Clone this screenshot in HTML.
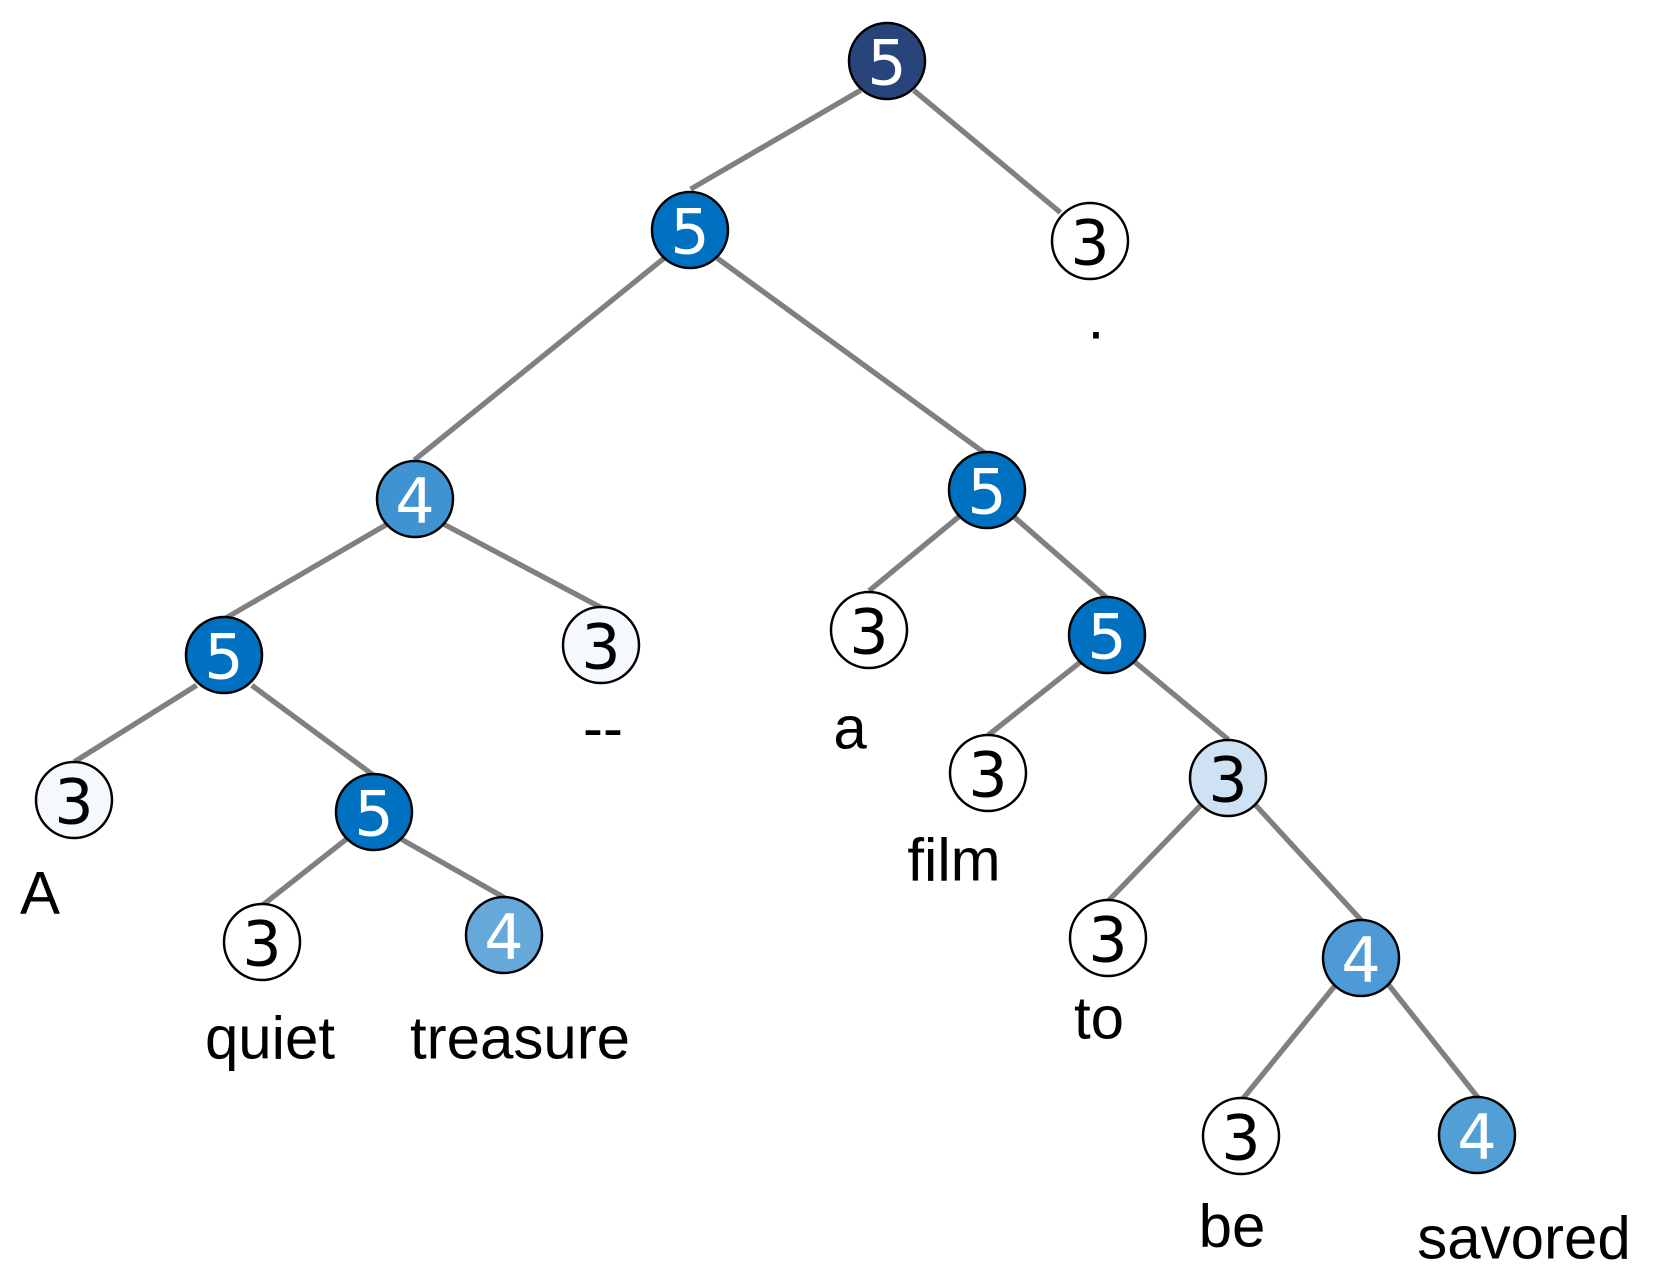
<!DOCTYPE html>
<html><head><meta charset="utf-8"><style>
html,body{margin:0;padding:0;background:#fff;}
svg{display:block;}
.n{font-family:"DejaVu Sans","Liberation Sans",sans-serif;font-size:62px;text-anchor:middle;dominant-baseline:central;}
.w{font-family:"Comic Sans MS","Liberation Sans",sans-serif;font-size:60px;text-anchor:middle;dominant-baseline:central;fill:#000;}
</style></head><body>
<svg width="1663" height="1278" viewBox="0 0 1663 1278" xmlns="http://www.w3.org/2000/svg">
<g stroke="#808080" stroke-width="5" transform="scale(1.0625)">
<line x1="810" y1="85" x2="650" y2="178"/>
<line x1="860" y1="85" x2="998" y2="200"/>
<line x1="625" y1="243" x2="390" y2="433"/>
<line x1="675" y1="243" x2="929" y2="428"/>
<line x1="365" y1="493" x2="212" y2="582"/>
<line x1="417" y1="493" x2="566" y2="572"/>
<line x1="904" y1="485" x2="818" y2="556"/>
<line x1="955" y1="487" x2="1042" y2="563"/>
<line x1="185" y1="645" x2="70" y2="717"/>
<line x1="237" y1="645" x2="352" y2="730"/>
<line x1="1017" y1="623" x2="930" y2="692"/>
<line x1="1068" y1="623" x2="1156" y2="696"/>
<line x1="327" y1="789" x2="247" y2="852"/>
<line x1="378" y1="790" x2="475" y2="845"/>
<line x1="1130" y1="758" x2="1043" y2="848"/>
<line x1="1182" y1="758" x2="1282" y2="867"/>
<line x1="1257" y1="927" x2="1169" y2="1035"/>
<line x1="1307" y1="927" x2="1391" y2="1033"/>
</g>
<g stroke="#000" stroke-width="2.5">
<circle cx="887" cy="61" r="38" fill="#27457a"/>
<circle cx="690" cy="230" r="38" fill="#0070c0"/>
<circle cx="1090" cy="241" r="38" fill="#fff"/>
<circle cx="415" cy="499" r="38" fill="#3f93d0"/>
<circle cx="987" cy="490" r="38" fill="#0070c0"/>
<circle cx="224" cy="655" r="38" fill="#0070c0"/>
<circle cx="601" cy="645" r="38" fill="#f5f9fd"/>
<circle cx="869" cy="630" r="38" fill="#fff"/>
<circle cx="1107" cy="635" r="38" fill="#0070c0"/>
<circle cx="74" cy="800" r="38" fill="#f5f9fd"/>
<circle cx="374" cy="812" r="38" fill="#0070c0"/>
<circle cx="988" cy="773" r="38" fill="#fff"/>
<circle cx="1228" cy="778" r="38" fill="#cfe2f3"/>
<circle cx="262" cy="942" r="38" fill="#fff"/>
<circle cx="504" cy="935" r="38" fill="#66a8d9"/>
<circle cx="1108" cy="938" r="38" fill="#fff"/>
<circle cx="1361" cy="958" r="38" fill="#4d9ad6"/>
<circle cx="1241" cy="1136" r="38" fill="#fff"/>
<circle cx="1477" cy="1135" r="38" fill="#529fd6"/>
</g>
<g class="n">
<text x="887" y="63" fill="#fff">5</text>
<text x="690" y="232" fill="#fff">5</text>
<text x="1090" y="243" fill="#000">3</text>
<text x="415" y="501" fill="#fff">4</text>
<text x="987" y="492" fill="#fff">5</text>
<text x="224" y="657" fill="#fff">5</text>
<text x="601" y="647" fill="#000">3</text>
<text x="869" y="632" fill="#000">3</text>
<text x="1107" y="637" fill="#fff">5</text>
<text x="74" y="802" fill="#000">3</text>
<text x="374" y="814" fill="#fff">5</text>
<text x="988" y="775" fill="#000">3</text>
<text x="1228" y="780" fill="#000">3</text>
<text x="262" y="944" fill="#000">3</text>
<text x="504" y="937" fill="#fff">4</text>
<text x="1108" y="940" fill="#000">3</text>
<text x="1361" y="960" fill="#fff">4</text>
<text x="1241" y="1138" fill="#000">3</text>
<text x="1477" y="1137" fill="#fff">4</text>
</g>
<g class="w">
<text x="1096" y="318">.</text>
<text x="603" y="728">--</text>
<text x="850" y="728">a</text>
<text x="40" y="893">A</text>
<text x="954" y="860">film</text>
<text x="270" y="1038">quiet</text>
<text x="520" y="1038">treasure</text>
<text x="1099" y="1018">to</text>
<text x="1232" y="1226">be</text>
<text x="1524" y="1238">savored</text>
</g>
</svg>
</body></html>
